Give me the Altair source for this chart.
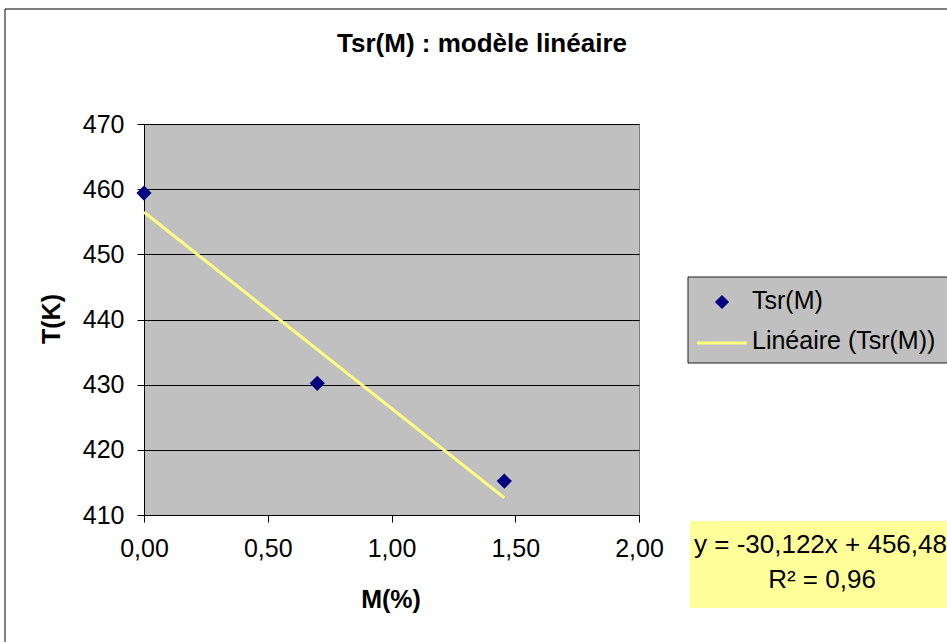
import altair as alt
import pandas as pd

FONT = "Liberation Sans, Arial, sans-serif"
FS = 25

# Data
M_values = [0.0, 0.70, 1.456]
T_values = [459.4, 430.2, 415.2]
trend_M = [0.0, 1.456]
trend_T = [456.48, 412.62]

title_text = "Tsr(M) : modèle linéaire"
x_title = "M(%)"
y_title = "T(K)"
legend_labels = ["Tsr(M)", "Linéaire (Tsr(M))"]
eq_line1 = "y = -30,122x + 456,48"
eq_line2 = "R² = 0,96"

x_ticks = [0.0, 0.5, 1.0, 1.5, 2.0]
y_ticks = [410, 420, 430, 440, 450, 460, 470]

# plot-area origin in page pixels
OX, OY = 144, 124
W, H = 495, 391

pts = pd.DataFrame({"M": M_values, "T": T_values})
trend = pd.DataFrame({"M": trend_M, "T": trend_T})
one = pd.DataFrame({"a": [0]})

xscale = alt.Scale(domain=[0, 2], nice=False, zero=False)
yscale = alt.Scale(domain=[410, 470], nice=False, zero=False)

xaxis = alt.Axis(values=x_ticks, grid=False, title=None, tickSize=7, labelPadding=14,
                 labelExpr="replace(format(datum.value, '.2f'), '.', ',')",
                 labelFontSize=FS, labelFont=FONT, labelColor="black",
                 domainColor="black", tickColor="black", labelFlush=False)
yaxis = alt.Axis(values=y_ticks, grid=True, gridColor="black", gridWidth=1, title=None,
                 tickSize=7, labelPadding=13, format="d",
                 labelFontSize=FS, labelFont=FONT, labelColor="black",
                 domainColor="black", tickColor="black")

def px(x):
    return alt.value(x - OX)

def py(y):
    return alt.value(y - OY)

outer = alt.Chart(one).mark_rect(fill="transparent", stroke="black", strokeWidth=1).encode(
    x=px(5), x2=px(960), y=py(9), y2=py(660))

trend_line = alt.Chart(trend).mark_line(color="#FFFF80", strokeWidth=3).encode(
    x=alt.X("M:Q", scale=xscale, axis=xaxis),
    y=alt.Y("T:Q", scale=yscale, axis=yaxis))

points = alt.Chart(pts).mark_point(shape="diamond", filled=True, color="#000080",
                                   size=230, opacity=1).encode(
    x=alt.X("M:Q", scale=xscale, axis=xaxis),
    y=alt.Y("T:Q", scale=yscale, axis=yaxis))

title = alt.Chart(one).mark_text(text=title_text, font=FONT, fontSize=26, fontWeight="bold",
                                 align="center", baseline="middle", color="black").encode(
    x=px(482), y=py(44))

xt = alt.Chart(one).mark_text(text=x_title, font=FONT, fontSize=FS, fontWeight="bold",
                              align="center", baseline="middle", color="black").encode(
    x=px(391), y=py(600))

yt = alt.Chart(one).mark_text(text=y_title, font=FONT, fontSize=FS, fontWeight="bold",
                              align="center", baseline="middle", angle=270, color="black").encode(
    x=px(52), y=py(319))

leg_box = alt.Chart(one).mark_rect(fill="#C0C0C0", stroke="#202020", strokeWidth=1).encode(
    x=px(688), x2=px(960), y=py(277), y2=py(363))

leg_pt = alt.Chart(one).mark_point(shape="diamond", filled=True, color="#000080",
                                   size=200, opacity=1).encode(x=px(722), y=py(302))

leg_line = alt.Chart(one).mark_rule(color="#FFFF80", strokeWidth=3).encode(
    x=px(697), x2=px(747), y=py(343))

leg_t1 = alt.Chart(one).mark_text(text=legend_labels[0], font=FONT, fontSize=FS,
                                  align="left", baseline="middle", color="black").encode(
    x=px(752), y=py(301))
leg_t2 = alt.Chart(one).mark_text(text=legend_labels[1], font=FONT, fontSize=FS,
                                  align="left", baseline="middle", color="black").encode(
    x=px(752), y=py(341))

eq_box = alt.Chart(one).mark_rect(fill="#FFFF99").encode(
    x=px(690), x2=px(960), y=py(521), y2=py(608))

eq_t1 = alt.Chart(one).mark_text(text=eq_line1, font=FONT, fontSize=26,
                                 align="left", baseline="middle", color="black").encode(
    x=px(694), y=py(545))
eq_t2 = alt.Chart(one).mark_text(text=eq_line2, font=FONT, fontSize=26,
                                 align="center", baseline="middle", color="black").encode(
    x=px(822), y=py(580))

chart = alt.layer(
    outer, trend_line, points, title, xt, yt,
    leg_box, leg_pt, leg_line, leg_t1, leg_t2,
    eq_box, eq_t1, eq_t2
).properties(
    width=W, height=H,
    padding={"left": OX, "top": OY, "right": 947 - OX - W, "bottom": 642 - OY - H},
    autosize=alt.AutoSizeParams(type="none"),
    background="white",
).configure_view(
    fill="#C0C0C0", stroke="#808080", strokeWidth=1
)

chart.save("out.html", embed_options={"renderer": "svg", "actions": False})
